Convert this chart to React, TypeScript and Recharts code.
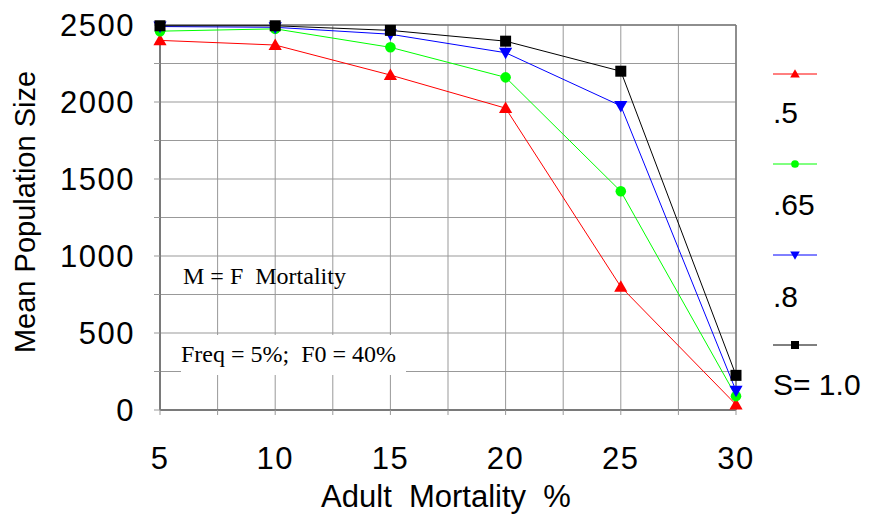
import { LineChart, Line, XAxis, YAxis, CartesianGrid, ReferenceLine } from 'recharts';

const mortality = [5, 10, 15, 20, 25, 30];
const s05 = [2400, 2370, 2175, 1960, 800, 35];
const s065 = [2460, 2475, 2355, 2160, 1420, 90];
const s08 = [2490, 2485, 2440, 2320, 1975, 125];
const s10 = [2495, 2495, 2465, 2395, 2200, 225];

const xTicks = [5, 7.5, 10, 12.5, 15, 17.5, 20, 22.5, 25, 27.5, 30];
const yTicks = [0, 250, 500, 750, 1000, 1250, 1500, 1750, 2000, 2250, 2500];

const series = [
  { key: 's05', label: '.5', color: '#ff0000', shape: 'up' },
  { key: 's065', label: '.65', color: '#00ff00', shape: 'circle' },
  { key: 's08', label: '.8', color: '#0000ff', shape: 'down' },
  { key: 's10', label: 'S= 1.0', color: '#000000', shape: 'square' },
];

const data = mortality.map((m, i) => ({
  m,
  s05: s05[i],
  s065: s065[i],
  s08: s08[i],
  s10: s10[i],
}));

const FONT = '"Liberation Sans", Arial, sans-serif';
const SERIF = '"Liberation Serif", "Times New Roman", serif';

function marker(shape: string, color: string, cx: number, cy: number, s: number, key?: string) {
  if (shape === 'up') {
    return <polygon key={key} points={`${cx},${cy - s * 0.6} ${cx - s * 0.6},${cy + s * 0.45} ${cx + s * 0.6},${cy + s * 0.45}`} fill={color} />;
  }
  if (shape === 'down') {
    return <polygon key={key} points={`${cx},${cy + s * 0.6} ${cx - s * 0.6},${cy - s * 0.45} ${cx + s * 0.6},${cy - s * 0.45}`} fill={color} />;
  }
  if (shape === 'circle') {
    return <circle key={key} cx={cx} cy={cy} r={s * 0.48} fill={color} />;
  }
  return <rect key={key} x={cx - s / 2} y={cy - s / 2} width={s} height={s} fill={color} />;
}

function makeDot(shape: string, color: string) {
  return (props: any) => {
    const { cx, cy, index } = props;
    return marker(shape, color, cx, cy, 11, `${shape}-${index}`);
  };
}

const legendY = [66, 156, 247, 337];
const legendTextY = [115, 207, 299, 387];

export default function App() {
  return (
    <div style={{ position: 'relative', width: 865, height: 508, background: '#fff' }}>
      <LineChart width={865} height={508} data={data} margin={{ top: 17, right: 137, left: 92, bottom: 76 }}>
        <CartesianGrid stroke="#999999" strokeWidth={1} />
        <XAxis
          dataKey="m"
          type="number"
          domain={[5, 30]}
          ticks={xTicks}
          interval={0}
          height={30}
          tickSize={5}
          tickMargin={32}
          tickFormatter={(v: number) => (v % 5 === 0 ? String(v) : '')}
          tick={{ fill: '#000', fontSize: 31, fontFamily: FONT, letterSpacing: 1.5 }}
          stroke="#7a7a7a"
          strokeWidth={2}
          tickLine={{ stroke: '#999999', strokeWidth: 1 }}
        />
        <YAxis
          type="number"
          domain={[0, 2500]}
          ticks={yTicks}
          interval={0}
          width={60}
          tickSize={6}
          tickMargin={19}
          tickFormatter={(v: number) => (v % 500 === 0 ? String(v) : '')}
          tick={{ fill: '#000', fontSize: 31, fontFamily: FONT, letterSpacing: 1.5 }}
          stroke="#7a7a7a"
          strokeWidth={2}
          tickLine={{ stroke: '#999999', strokeWidth: 1 }}
        />
        <ReferenceLine y={2500} stroke="#7a7a7a" strokeWidth={1.5} />
        <ReferenceLine x={30} stroke="#7a7a7a" strokeWidth={1.5} />
        {series.map((s) => (
          <Line
            key={s.key}
            type="linear"
            dataKey={s.key}
            stroke={s.color}
            strokeWidth={1}
            dot={makeDot(s.shape, s.color)}
            activeDot={false}
            isAnimationActive={false}
          />
        ))}
      </LineChart>
      <svg width={865} height={508} style={{ position: 'absolute', left: 0, top: 0, pointerEvents: 'none' }}>
        <text x={27} y={204} transform="rotate(-90 27 204)" textAnchor="middle" fontSize={29} fontFamily={FONT} fill="#000">
          Mean Population Size
        </text>
        <text x={438} y={499} textAnchor="middle" fontSize={31} fontFamily={FONT} fill="#000" style={{ whiteSpace: 'pre' }}>
          {'Adult  Mortality  %'}
        </text>
        <text x={175} y={276} fontSize={24} fontFamily={SERIF} fill="#000" style={{ whiteSpace: 'pre' }}>
          {'M = F  Mortality'}
        </text>
        <rect x={173} y={327} width={225} height={40} fill="#fff" />
        <text x={173} y={354} fontSize={24} fontFamily={SERIF} fill="#000" style={{ whiteSpace: 'pre' }}>
          {'Freq = 5%;  F0 = 40%'}
        </text>
        {series.map((s, i) => (
          <g key={s.key}>
            <line x1={765} x2={809} y1={legendY[i]} y2={legendY[i]} stroke={s.color} strokeWidth={1} />
            {marker(s.shape, s.color, 787, legendY[i], 8)}
            <text x={765} y={legendTextY[i]} fontSize={30} fontFamily={FONT} fill="#000">
              {s.label}
            </text>
          </g>
        ))}
      </svg>
    </div>
  );
}
